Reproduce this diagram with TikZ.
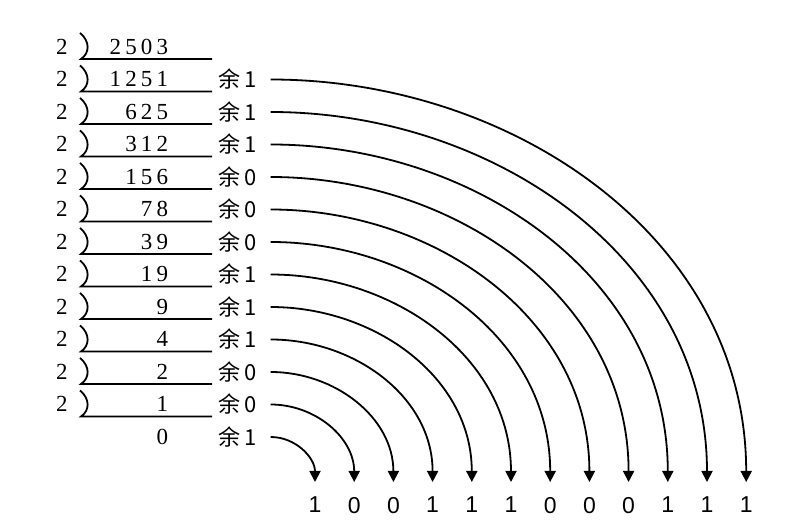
\documentclass[tikz,border=0pt]{standalone}
\usepackage{fontspec}
\usepackage{tikz}
\usetikzlibrary{arrows.meta}
\setmainfont{Liberation Serif}
\newfontfamily\numfont[LetterSpace=18]{Liberation Serif}
\newfontfamily\cjk{Noto Sans CJK SC}
\newfontfamily\bitfont{Liberation Sans}
\tikzset{quot/.style = {anchor=base east, inner sep=0, font=\numfont\fontsize{11.5}{13}\selectfont}}
\tikzset{divisor/.style = {anchor=base, inner sep=0, font=\fontsize{11.5}{13}\selectfont}}
\tikzset{rem/.style = {anchor=west, inner sep=0, font=\cjk\fontsize{11}{13}\selectfont}}
\tikzset{bit/.style = {anchor=north, inner sep=0, outer ysep=7.5pt, font=\bitfont\fontsize{11.5}{13}\selectfont}}
\tikzset{carry/.style = {line width=0.9pt, -{Triangle[length=5.5pt, width=5.5pt]}}}

\begin{document}
\begin{tikzpicture}[x=0.5pt, y=-0.5pt, line width=0.9pt]
  \useasboundingbox (0,0) rectangle (788,523);

  \foreach \q [count=\i from 0] in {2503, 1251, 625, 312, 156, 78, 39, 19, 9, 4, 2, 1, 0} {
    \pgfmathsetmacro{\y}{47 + 32.5 * \i};
    \node [quot] (q\i) at (169, \y + 7.5) {\q};
  }
  \foreach \i in {0,...,11} {
    \pgfmathsetmacro{\y}{47 + 32.5 * \i};
    \node [divisor] (d\i) at (62, \y + 7.5) {2};
    \draw (80, \y - 14) .. controls (90, \y - 6) and (90, \y + 6) .. (81, \y + 12) -- (212, \y + 12);
  }

  \foreach \b [count=\j from 0] in {1, 0, 0, 1, 1, 1, 0, 0, 0, 1, 1, 1} {
    \node [bit] (b\j) at (315 + 39.2 * \j, 482) {\b};
  }
  \foreach \r [count=\i from 1] in {1, 1, 1, 0, 0, 0, 1, 1, 1, 0, 0, 1} {
    \pgfmathsetmacro{\y}{47 + 32.5 * \i};
    \pgfmathtruncatemacro{\j}{12 - \i};
    \node [rem] (r\i) at (218, \y) {余\,\r};
    \draw [carry] ([xshift=6.5pt]r\i.east) to[out=0, in=90] (b\j.north);
  }
\end{tikzpicture}
\end{document}
